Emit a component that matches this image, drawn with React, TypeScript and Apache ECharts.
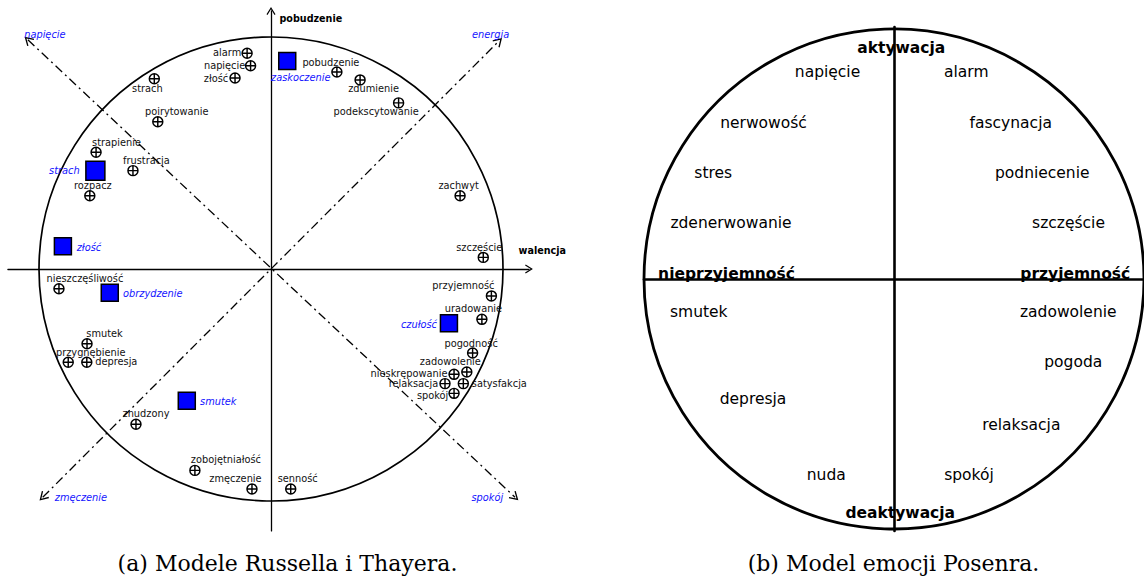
import React, { useEffect, useRef } from 'react';
import * as echarts from 'echarts';

// ---------- (a) Russell (⊕ points) ----------
const russellNames = ['alarm', 'napięcie', 'złość', 'strach', 'poirytowanie', 'strapienie', 'frustracja', 'rozpacz',
  'pobudzenie', 'zdumienie', 'podekscytowanie', 'zachwyt', 'szczęście', 'przyjemność', 'uradowanie', 'pogodność',
  'zadowolenie', 'nieskrępowanie', 'relaksacja', 'satysfakcja', 'spokój', 'senność', 'zmęczenie', 'zobojętniałość',
  'znudzony', 'depresja', 'przygnębienie', 'smutek', 'nieszczęśliwość'];
const russellValence = [-0.103, -0.088, -0.155, -0.503, -0.488, -0.754, -0.595, -0.781,
  0.284, 0.384, 0.550, 0.815, 0.915, 0.950, 0.909, 0.869,
  0.844, 0.789, 0.750, 0.829, 0.789, 0.085, -0.082, -0.328,
  -0.582, -0.794, -0.874, -0.793, -0.914];
const russellArousal = [0.930, 0.876, 0.823, 0.820, 0.635, 0.503, 0.424, 0.316,
  0.849, 0.815, 0.716, 0.316, 0.050, -0.116, -0.217, -0.362,
  -0.444, -0.454, -0.494, -0.494, -0.536, -0.948, -0.948, -0.868,
  -0.669, -0.402, -0.402, -0.322, -0.085];
// label placement (pixels, relative to the point)
const russellLabelOffsets = [[-20, -0.5], [-26, -0.5], [-19, 0], [-7, 9.5], [19, -10], [20.5, -10], [13.5, -10], [3, -10.5],
  [-6, -10], [13.5, 8.5], [-22.5, 8.5], [-1.5, -10.5], [-4, -9.5], [-28, -10], [-8.5, -10.5], [-1.5, -9.5],
  [-16.5, -10.5], [-45, -0.5], [-31.5, -0.5], [36, -0.5], [-21.5, 2], [7, -10], [-16.5, -10.5], [31, -10.5],
  [10, -10.5], [29.5, -0.5], [22.5, -10], [17.5, -10], [26, -10]];

// ---------- (a) Thayer (blue squares) ----------
const thayerNames = ['strach', 'zaskoczenie', 'złość', 'obrzydzenie', 'czułość', 'smutek'];
const thayerValence = [-0.757, 0.070, -0.897, -0.695, 0.767, -0.363];
const thayerArousal = [0.424, 0.897, 0.098, -0.102, -0.234, -0.568];
const thayerLabelOffsets = [[-31, 0], [13.5, 16.5], [26, 1], [43, 0.5], [-30, 1], [31.5, 0.5]];
const thayerSizes = [19, 17, 17, 17, 17, 17];

// ---------- (a) diagonal axes ----------
const tensionAxisNames = ['napięcie', 'spokój'];
const tensionAxisEnds = [[-1.048, 0.988], [1.052, -0.984]];
const energyAxisNames = ['zmęczenie', 'energia'];
const energyAxisEnds = [[-0.984, -0.984], [0.982, 0.982]];
const tensionLabelOffsets = [[17, -5.7], [-27.8, 0]];
const energyLabelOffsets = [[38.2, 0], [-8.2, -6.8]];

const russellAxisNames = ['pobudzenie', 'walencja'];
const russellAxisNamePos = [[0.0345, 1.078], [1.065, 0.081]];

// ---------- (b) Posner ----------
const posnerNames = ['napięcie', 'alarm', 'nerwowość', 'fascynacja', 'stres', 'podniecenie', 'zdenerwowanie', 'szczęście',
  'smutek', 'zadowolenie', 'pogoda', 'depresja', 'relaksacja', 'nuda', 'spokój'];
const posnerValence = [-0.266, 0.289, -0.522, 0.467, -0.723, 0.593, -0.652, 0.698,
  -0.781, 0.697, 0.717, -0.564, 0.509, -0.271, 0.300];
const posnerArousal = [0.820, 0.820, 0.618, 0.618, 0.419, 0.419, 0.221, 0.221,
  -0.130, -0.130, -0.331, -0.477, -0.578, -0.778, -0.778];
const posnerPoles = ['aktywacja', 'deaktywacja', 'nieprzyjemność', 'przyjemność'];
const posnerPoleValence = [0.029, 0.025, -0.670, 0.725];
const posnerPoleArousal = [0.918, -0.930, 0.020, 0.020];

const captions = ['(a) Modele Russella i Thayera.', '(b) Model emocji Posenra.'];

// ---------- layout ----------
const S0 = 232, CX0 = 271, CY0 = 269;
const X0 = [-1.134, 1.112], Y0 = [-1.129, 1.112];
const S1 = 252, CX1 = 896, CY1 = 279;

const ARROW = 'path://M-5,8L0,0L5,8L3.9,8.7L0,2.5L-3.9,8.7Z';
const OPLUS = 'path://M-5,0A5,5 0 1 1 5,0A5,5 0 1 1 -5,0ZM-5,0L5,0M0,-5L0,5';
const FONT = 'DejaVu Sans';
const BLUE = '#1414ff';
const HIDDEN = { color: 'rgba(255,255,255,0)', borderWidth: 0 };

function circleSeries(idx: number, lw: number) {
  return {
    type: 'custom', xAxisIndex: idx, yAxisIndex: idx, silent: true, z: 1,
    data: [[0, 0, 1]],
    renderItem: (params: any, api: any) => {
      const c = api.coord([api.value(0), api.value(1)]);
      const r = api.size([api.value(2), api.value(2)]);
      return { type: 'circle', shape: { cx: c[0], cy: c[1], r: r[0] }, style: { fill: 'none', stroke: '#000', lineWidth: lw } };
    },
  };
}

function axisPair(idx: number, min: number, max: number, lw: number, arrow: boolean) {
  return {
    type: 'value', gridIndex: idx, min, max,
    axisLine: { show: true, onZero: true, symbol: arrow ? ['none', ARROW] : 'none', symbolSize: [9, 8], lineStyle: { color: '#000', width: lw } },
    axisTick: { show: false }, axisLabel: { show: false }, splitLine: { show: false },
  };
}

function textLabel(extra: any) {
  return { show: true, position: 'inside', formatter: '{b}', fontFamily: FONT, textBorderWidth: 0, textBorderColor: 'transparent', opacity: 1, ...extra };
}

export default function App() {
  const ref = useRef<HTMLDivElement>(null);
  useEffect(() => {
    document.body.style.margin = '0';
    const chart = echarts.init(ref.current!, null, { renderer: 'svg' });
    const option: any = {
      animation: false,
      grid: [
        { left: CX0 + X0[0] * S0, width: (X0[1] - X0[0]) * S0, top: CY0 - Y0[1] * S0, height: (Y0[1] - Y0[0]) * S0 },
        { left: CX1 - S1, width: 2 * S1, top: CY1 - S1, height: 2 * S1 },
      ],
      xAxis: [axisPair(0, X0[0], X0[1], 1.3, true), axisPair(1, -1, 1, 2.6, false)],
      yAxis: [axisPair(0, Y0[0], Y0[1], 1.3, true), axisPair(1, -1, 1, 2.6, false)],
      graphic: captions.map((t, i) => ({
        type: 'text', x: i === 0 ? 287.5 : 893.5, y: 563,
        style: { text: t, fontFamily: 'DejaVu Serif', fontSize: 22, fill: '#000', align: 'center', verticalAlign: 'middle' },
      })),
      series: [
        circleSeries(0, 1.7),
        circleSeries(1, 2.8),
        {
          type: 'line', xAxisIndex: 0, yAxisIndex: 0, data: [], silent: true, z: 2,
          markLine: {
            silent: true, animation: false,
            symbol: [ARROW, ARROW], symbolSize: [10, 9],
            label: { show: false },
            lineStyle: { color: '#000', width: 1.3, type: [9, 4, 2, 4] },
            data: [
              [{ coord: tensionAxisEnds[0] }, { coord: tensionAxisEnds[1] }],
              [{ coord: energyAxisEnds[0] }, { coord: energyAxisEnds[1] }],
            ],
          },
        },
        {
          type: 'scatter', xAxisIndex: 0, yAxisIndex: 0, symbol: 'circle', symbolSize: 1, silent: true, z: 5,
          itemStyle: HIDDEN,
          label: textLabel({ fontStyle: 'italic', fontSize: 9.8, color: BLUE }),
          data: [
            ...tensionAxisNames.map((n, i) => ({ name: n, value: tensionAxisEnds[i], label: { offset: tensionLabelOffsets[i] } })),
            ...energyAxisNames.map((n, i) => ({ name: n, value: energyAxisEnds[i], label: { offset: energyLabelOffsets[i] } })),
          ],
        },
        {
          type: 'scatter', xAxisIndex: 0, yAxisIndex: 0, symbol: 'circle', symbolSize: 1, silent: true, z: 5,
          itemStyle: HIDDEN,
          label: textLabel({ position: 'right', distance: 0, fontWeight: 'bold', fontSize: 9.6, color: '#000' }),
          data: russellAxisNames.map((n, i) => ({ name: n, value: russellAxisNamePos[i] })),
        },
        {
          type: 'scatter', xAxisIndex: 0, yAxisIndex: 0, symbol: OPLUS, symbolSize: 10, silent: true, z: 6,
          itemStyle: { color: '#fff', borderColor: '#000', borderWidth: 1.45, opacity: 1 },
          label: textLabel({ fontSize: 9.8, color: '#111' }),
          data: russellNames.map((n, i) => ({ name: n, value: [russellValence[i], russellArousal[i]], label: { offset: russellLabelOffsets[i] } })),
        },
        {
          type: 'scatter', xAxisIndex: 0, yAxisIndex: 0, symbol: 'rect', silent: true, z: 6,
          itemStyle: { color: '#0000ff', borderColor: '#000', borderWidth: 1.5, opacity: 1 },
          label: textLabel({ fontStyle: 'italic', fontSize: 9.8, color: BLUE }),
          data: thayerNames.map((n, i) => ({ name: n, value: [thayerValence[i], thayerArousal[i]], symbolSize: thayerSizes[i], label: { offset: thayerLabelOffsets[i] } })),
        },
        {
          type: 'scatter', xAxisIndex: 1, yAxisIndex: 1, symbol: 'circle', symbolSize: 1, silent: true, z: 6,
          itemStyle: HIDDEN,
          label: textLabel({ fontSize: 15.5, color: '#000' }),
          data: posnerNames.map((n, i) => ({ name: n, value: [posnerValence[i], posnerArousal[i]] })),
        },
        {
          type: 'scatter', xAxisIndex: 1, yAxisIndex: 1, symbol: 'circle', symbolSize: 1, silent: true, z: 6,
          itemStyle: HIDDEN,
          label: textLabel({ fontWeight: 'bold', fontSize: 15.5, color: '#000' }),
          data: posnerPoles.map((n, i) => ({ name: n, value: [posnerPoleValence[i], posnerPoleArousal[i]] })),
        },
      ],
    };
    chart.setOption(option);
    return () => chart.dispose();
  }, []);
  return <div ref={ref} style={{ width: 1144, height: 578 }} />;
}
